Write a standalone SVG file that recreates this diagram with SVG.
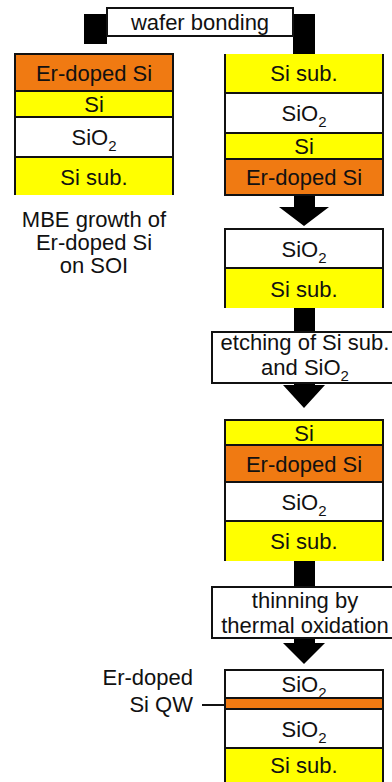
<svg xmlns="http://www.w3.org/2000/svg" width="392" height="782" viewBox="0 0 392 782">
  <style>
    text { font-family: "Liberation Sans", Arial, Helvetica, sans-serif; font-size: 22px; fill: #111; }
    .c { text-anchor: middle; }
    .e { text-anchor: end; }
    .sub { font-size: 15px; }
    .y { fill: #ffff00; }
    .o { fill: #f07a12; }
    .w { fill: #ffffff; }
    .edge { fill: none; stroke: #111; stroke-width: 2; }
    .box { fill: #ffffff; stroke: #111; stroke-width: 2; }
    .bar { fill: #000; }
  </style>
  <rect width="392" height="782" fill="#ffffff"/>

  <!-- process arrows and bonding bracket -->
  <g id="connectors">
    <rect class="bar" x="84" y="14" width="23" height="30"/>
    <rect class="bar" x="293" y="14" width="22" height="40"/>
    <polygon class="bar" points="294,195 315,195 315,207 329,207 304,226 279,207 294,207"/>
    <rect class="bar" x="294" y="308" width="21" height="25"/>
    <polygon class="bar" points="294,380 315,380 315,385 325,385 304,408 283,385 294,385"/>
    <rect class="bar" x="294" y="561" width="21" height="27"/>
    <polygon class="bar" points="294,636 315,636 315,643 325,643 304,664 283,643 294,643"/>
    <line x1="202" y1="705" x2="225" y2="705" stroke="#111" stroke-width="2"/>
  </g>

  <!-- wafer bonding label -->
  <g id="step-bonding">
    <rect class="box" x="107" y="8" width="186" height="28"/>
    <text class="c" x="200" y="29.5">wafer bonding</text>
  </g>

  <!-- SOI with MBE-grown Er-doped Si -->
  <g id="stack-soi">
    <rect class="o" x="15" y="54" width="158" height="37"/>
    <rect class="y" x="15" y="91" width="158" height="26"/>
    <rect class="w" x="15" y="117" width="158" height="40"/>
    <rect class="y" x="15" y="157" width="158" height="38"/>
    <path class="edge" d="M15,195 V54 H173 V195 M15,91 H173 M15,117 H173 M15,157 H173"/>
    <text class="c" x="94" y="80.5">Er-doped Si</text>
    <text class="c" x="94" y="112">Si</text>
    <text class="c" x="94" y="145">SiO<tspan class="sub" dy="6">2</tspan></text>
    <text class="c" x="94" y="185">Si sub.</text>
  </g>

  <g id="caption-mbe">
    <text class="c" x="94" y="227">MBE growth of</text>
    <text class="c" x="94" y="250">Er-doped Si</text>
    <text class="c" x="94" y="273">on SOI</text>
  </g>

  <!-- flipped SOI bonded onto oxidised substrate -->
  <g id="stack-bonded">
    <rect class="y" x="225" y="54" width="158" height="39"/>
    <rect class="w" x="225" y="93" width="158" height="40"/>
    <rect class="y" x="225" y="133" width="158" height="26"/>
    <rect class="o" x="225" y="159" width="158" height="36"/>
    <path class="edge" d="M225,54 V195 H383 V54 M225,93 H383 M225,133 H383 M225,159 H383"/>
    <text class="c" x="304" y="81">Si sub.</text>
    <text class="c" x="304" y="121">SiO<tspan class="sub" dy="6">2</tspan></text>
    <text class="c" x="304" y="154">Si</text>
    <text class="c" x="304" y="185">Er-doped Si</text>
  </g>

  <!-- oxidised substrate -->
  <g id="stack-substrate">
    <rect class="w" x="225" y="229" width="158" height="39"/>
    <rect class="y" x="225" y="268" width="158" height="40"/>
    <path class="edge" d="M225,308 V229 H383 V308 M225,268 H383"/>
    <text class="c" x="304" y="257">SiO<tspan class="sub" dy="6">2</tspan></text>
    <text class="c" x="304" y="296.5">Si sub.</text>
  </g>

  <g id="step-etching">
    <rect class="box" x="212" y="332" width="190" height="51"/>
    <text class="c" x="305" y="350">etching of Si sub.</text>
    <text class="c" x="305" y="375">and SiO<tspan class="sub" dy="6">2</tspan></text>
  </g>

  <!-- after etching -->
  <g id="stack-etched">
    <rect class="y" x="225" y="420" width="158" height="25"/>
    <rect class="o" x="225" y="445" width="158" height="37"/>
    <rect class="w" x="225" y="482" width="158" height="39"/>
    <rect class="y" x="225" y="521" width="158" height="40"/>
    <path class="edge" d="M225,561 V420 H383 V561 M225,445 H383 M225,482 H383 M225,521 H383"/>
    <text class="c" x="304" y="440.5">Si</text>
    <text class="c" x="304" y="471.5">Er-doped Si</text>
    <text class="c" x="304" y="509.5">SiO<tspan class="sub" dy="6">2</tspan></text>
    <text class="c" x="304" y="549">Si sub.</text>
  </g>

  <g id="step-thinning">
    <rect class="box" x="212" y="587" width="190" height="51"/>
    <text class="c" x="305" y="608">thinning by</text>
    <text class="c" x="305" y="633">thermal oxidation</text>
  </g>

  <!-- final quantum-well structure -->
  <g id="stack-qw">
    <rect class="w" x="225" y="670" width="158" height="28"/>
    <rect class="o" x="225" y="698" width="158" height="11"/>
    <rect class="w" x="225" y="709" width="158" height="39"/>
    <rect class="y" x="225" y="748" width="158" height="34"/>
    <path class="edge" d="M225,782 V670 H383 V782 M225,698 H383 M225,709 H383 M225,748 H383"/>
    <text class="c" x="304" y="692">SiO<tspan class="sub" dy="6">2</tspan></text>
    <text class="c" x="304" y="736.5">SiO<tspan class="sub" dy="6">2</tspan></text>
    <text class="c" x="304" y="773">Si sub.</text>
  </g>

  <g id="label-qw">
    <text class="e" x="193" y="685">Er-doped</text>
    <text class="e" x="193" y="712">Si QW</text>
  </g>
</svg>
